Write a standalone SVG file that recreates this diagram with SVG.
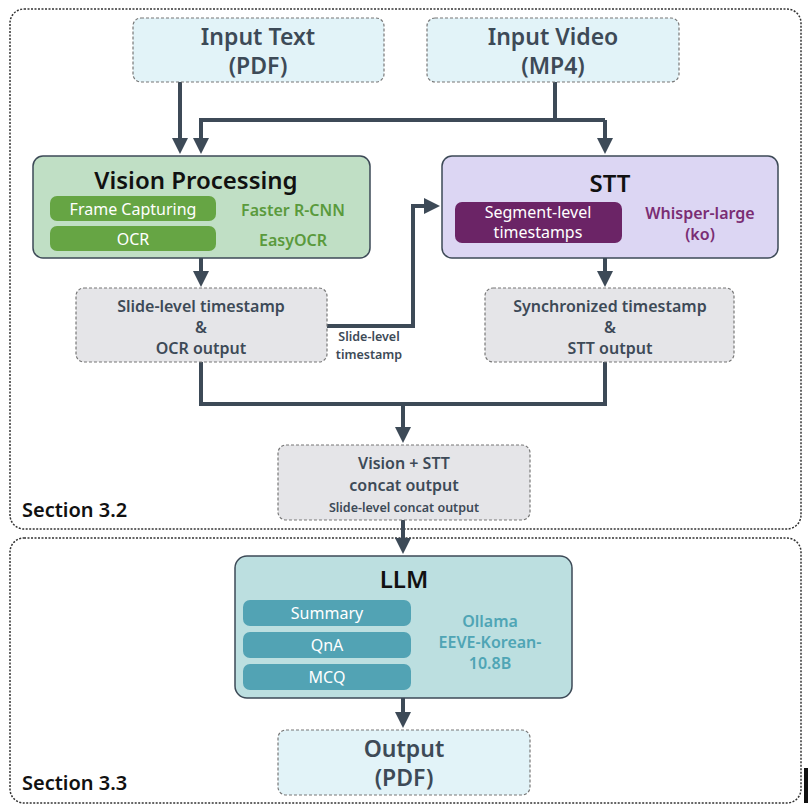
<svg xmlns="http://www.w3.org/2000/svg" width="810" height="808" viewBox="0 0 810 808">
<defs>
<marker id="ah" markerWidth="4" markerHeight="4" refX="3" refY="2" orient="auto" markerUnits="strokeWidth"><path d="M0,0 L4,2 L0,4 z" fill="#3d4a57"/></marker>
<style>
text{font-family:"Noto Sans","DejaVu Sans",sans-serif;text-anchor:middle}
.sec{fill:none;stroke:#333;stroke-width:1.5;stroke-dasharray:2 1.5}
.io{fill:#e2f3f8;stroke:#777;stroke-width:1.2;stroke-dasharray:3 2}
.gr{fill:#e5e5e8;stroke:#777;stroke-width:1.2;stroke-dasharray:3 2}
.big{font-size:23px;fill:#3d4a57}
.mid{font-size:16px;fill:#3d4a57}
.c{fill:none;stroke:#3d4a57;stroke-width:4;marker-end:url(#ah)}
.n{fill:none;stroke:#3d4a57;stroke-width:4}
.pl{font-size:16px;fill:#fff}
.st{font-size:20px;font-weight:600;fill:#111;text-anchor:start}
</style>
</defs>
<rect class="sec" x="10" y="9" width="791" height="520" rx="14"/>
<rect class="sec" x="10" y="538" width="791" height="265" rx="14"/>
<text class="st" x="22" y="517">Section 3.2</text>
<text class="st" x="22" y="790">Section 3.3</text>
<rect x="804" y="768" width="4" height="35" fill="#111"/>
<g id="connectors">
<path class="c" d="M180,82 V150"/>
<path class="n" d="M555,82 V120"/>
<path class="c" d="M605,120 H201 V150"/>
<path class="c" d="M605,120 V150"/>
<path class="c" d="M201,258 V283"/>
<path class="c" d="M605,258 V283"/>
<path class="c" d="M327,326 H413 V206 H436"/>
<path class="n" d="M201,362 V404 H605 V362"/>
<path class="c" d="M403,404 V439"/>
<path class="c" d="M403,520 V550"/>
<path class="c" d="M403,698 V724"/>
<text x="369" y="341" style="font-size:12.5px;font-weight:600;fill:#3d4a57">Slide-level</text>
<text x="369" y="359" style="font-size:12.5px;font-weight:600;fill:#3d4a57">timestamp</text>
</g>
<g id="input-text"><rect class="io" x="133" y="18" width="251" height="64" rx="8"/>
<text class="big" x="258" y="45" font-weight="600">Input Text</text><text class="big" x="258" y="74" font-weight="600">(PDF)</text></g>
<g id="input-video"><rect class="io" x="427" y="18" width="252" height="64" rx="8"/>
<text class="big" x="553" y="45" font-weight="600">Input Video</text><text class="big" x="553" y="74" font-weight="600">(MP4)</text></g>
<g id="vision"><rect x="33" y="156" width="337" height="102" rx="10" fill="#c0dfc5" stroke="#3d4a57" stroke-width="1.5"/>
<text x="196" y="189" style="font-size:24px;font-weight:600;fill:#111">Vision Processing</text>
<rect x="50" y="196" width="166" height="25" rx="7" fill="#66a544"/>
<text class="pl" x="133" y="215">Frame Capturing</text>
<rect x="50" y="226" width="166" height="25" rx="7" fill="#66a544"/>
<text class="pl" x="133" y="245">OCR</text>
<text x="293" y="216" style="font-size:16px;font-weight:600;fill:#5a9a3c">Faster R-CNN</text>
<text x="293" y="246" style="font-size:16px;font-weight:600;fill:#5a9a3c">EasyOCR</text></g>
<g id="stt"><rect x="442" y="156" width="336" height="102" rx="10" fill="#dcd6f3" stroke="#3d4a57" stroke-width="1.5"/>
<text x="610" y="192" style="font-size:24px;font-weight:600;fill:#111">STT</text>
<rect x="455" y="202" width="167" height="41" rx="7" fill="#6b2466"/>
<text class="pl" x="538" y="218">Segment-level</text>
<text class="pl" x="538" y="238">timestamps</text>
<text x="700" y="219" style="font-size:16px;font-weight:600;fill:#7a2d73">Whisper-large</text>
<text x="700" y="240" style="font-size:16px;font-weight:600;fill:#7a2d73">(ko)</text></g>
<g id="slide-level"><rect class="gr" x="76" y="288" width="251" height="74" rx="8"/>
<text class="mid" x="201" y="312" font-weight="600">Slide-level timestamp</text>
<text class="mid" x="201" y="333" font-weight="600">&amp;</text>
<text class="mid" x="201" y="354" font-weight="600">OCR output</text></g>
<g id="sync"><rect class="gr" x="485" y="288" width="249" height="74" rx="8"/>
<text class="mid" x="610" y="312" font-weight="600">Synchronized timestamp</text>
<text class="mid" x="610" y="333" font-weight="600">&amp;</text>
<text class="mid" x="610" y="354" font-weight="600">STT output</text></g>
<g id="concat"><rect class="gr" x="278" y="445" width="252" height="75" rx="8"/>
<text class="mid" x="404" y="469" font-weight="600">Vision + STT</text>
<text class="mid" x="404" y="491" font-weight="600">concat output</text>
<text x="404" y="512" style="font-size:12.5px;font-weight:600;fill:#3d4a57">Slide-level concat output</text></g>
<g id="llm"><rect x="235" y="556" width="337" height="142" rx="12" fill="#bcdfe0" stroke="#3d4a57" stroke-width="1.5"/>
<text x="404" y="588" style="font-size:24px;font-weight:600;fill:#111">LLM</text>
<rect x="243" y="600" width="168" height="26" rx="7" fill="#52a3b4"/><text class="pl" x="327" y="619">Summary</text>
<rect x="243" y="632" width="168" height="26" rx="7" fill="#52a3b4"/><text class="pl" x="327" y="651">QnA</text>
<rect x="243" y="664" width="168" height="26" rx="7" fill="#52a3b4"/><text class="pl" x="327" y="683">MCQ</text>
<text x="490" y="627" style="font-size:16px;font-weight:600;fill:#4fa5b5">Ollama</text>
<text x="490" y="648" style="font-size:16px;font-weight:600;fill:#4fa5b5">EEVE-Korean-</text>
<text x="490" y="669" style="font-size:16px;font-weight:600;fill:#4fa5b5">10.8B</text></g>
<g id="output"><rect class="io" x="278" y="730" width="252" height="65" rx="8"/>
<text class="big" x="404" y="757" font-weight="600">Output</text><text class="big" x="404" y="786" font-weight="600">(PDF)</text></g>
</svg>
